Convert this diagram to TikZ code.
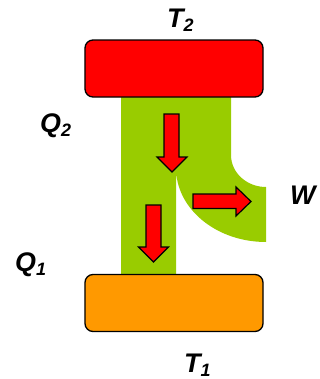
\documentclass[tikz,border=0pt]{standalone}
\usepackage{fontspec}
\setmainfont{Liberation Sans}
\begin{document}
\begin{tikzpicture}[x=1bp,y=-1bp]
  \definecolor{flowgreen}{HTML}{99CC00}
  \definecolor{hotred}{HTML}{FF0000}
  \definecolor{coldorange}{HTML}{FF9900}
  \tikzset{
    reservoir/.style={draw=black, line width=1.3bp, rounded corners=8bp,
      minimum width=178bp, minimum height=57bp, inner sep=0pt},
    blockarrow/.style={draw=black, fill=hotred, line width=1.2bp, line join=miter},
    lbl/.style={inner sep=0pt, font=\fontsize{27}{30}\selectfont\bfseries\itshape}
  }
  \newcommand{\lsub}[1]{\raisebox{-0.3ex}{\fontsize{18}{18}\selectfont #1}}
  \useasboundingbox (0,0) rectangle (320,379);

  % heat flow band: splits into the rejected heat and the work branch
  \fill[flowgreen] (121,90) -- (231,90) -- (231,155)
    .. controls (231,172.7) and (246.7,187) .. (266,187)
    -- (266,242)
    .. controls (216.3,242) and (176,208.8) .. (176,168)
    -- (176,280) -- (121,280) -- cycle;

  % reservoirs
  \node[reservoir, fill=hotred] (hot) at (174,68.5) {};
  \node[reservoir, fill=coldorange] (cold) at (174,303) {};

  % arrows
  \draw[blockarrow] (164,114) -- (179,114) -- (179,157) -- (187,157)
    -- (172,172) -- (157,157) -- (164,157) -- cycle;
  \draw[blockarrow] (146,205) -- (161,205) -- (161,247) -- (168.5,247)
    -- (153.5,262) -- (138.5,247) -- (146,247) -- cycle;
  \draw[blockarrow] (193,194) -- (236,194) -- (236,187) -- (251,201.5)
    -- (236,216) -- (236,208.5) -- (193,208.5) -- cycle;

  % labels
  \node[lbl, anchor=base west] (t2) at (167,27) {T\lsub{2}};
  \node[lbl, anchor=base west] (q2) at (40,132) {Q\lsub{2}};
  \node[lbl, anchor=base west] (w) at (290,204) {W};
  \node[lbl, anchor=base west] (q1) at (15,271) {Q\lsub{1}};
  \node[lbl, anchor=base west] (t1) at (184,372) {T\lsub{1}};
\end{tikzpicture}
\end{document}
